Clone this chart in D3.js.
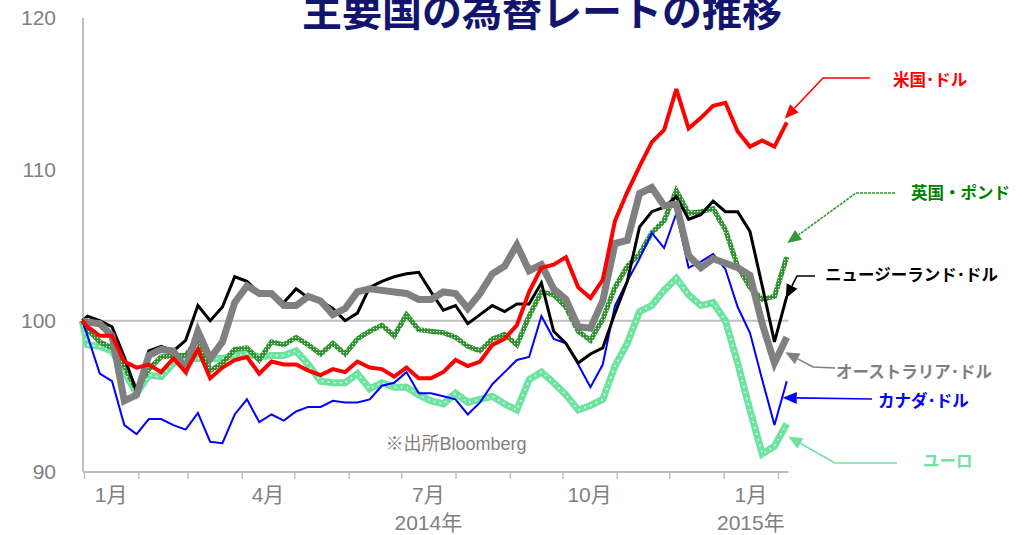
<!DOCTYPE html>
<html>
<head>
<meta charset="utf-8">
<script src="https://cdn.jsdelivr.net/npm/d3@7"></script>
<style>
  body { margin: 0; background: #fff; }
  svg { display: block; }
</style>
</head>
<body>
<script>
// weekly (Friday) index values, 2013-12-31 = 100
var dates = [new Date(2013, 11, 31)].concat(d3.timeFriday.range(new Date(2014, 0, 1), new Date(2015, 1, 7)));

var usd = [100, 99.6, 99.0, 99.0, 97.3, 96.9, 97.1, 96.6, 97.5, 96.6,
  98.1, 96.2, 96.9, 97.4, 97.6, 96.5, 97.3, 97.1, 97.1, 96.7,
  96.4, 96.8, 96.6, 97.3, 96.9, 96.8, 96.3, 96.9, 96.2, 96.2,
  96.6, 97.4, 97.0, 97.3, 98.4, 98.8, 99.7, 101.9, 103.5, 103.7,
  104.2, 102.2, 101.5, 102.7, 106.6, 108.5, 110.2, 111.8, 112.6, 115.3,
  112.7, 113.4, 114.2, 114.4, 112.5, 111.5, 111.9, 111.5, 113.1];
var nzd = [100, 100.3, 100.0, 99.6, 97.6, 95.3, 98.0, 98.3, 98.0, 98.7,
  101.0, 100.0, 100.9, 102.9, 102.6, 101.8, 101.7, 101.2, 102.1, 101.5,
  101.3, 100.8, 100.0, 100.5, 102.2, 102.6, 102.9, 103.1, 103.2, 101.9,
  100.7, 101.0, 99.8, 100.4, 101.0, 100.6, 101.1, 101.1, 102.5, 99.3,
  98.5, 97.2, 97.8, 98.2, 100.5, 102.6, 106.2, 107.2, 107.5, 108.2,
  106.7, 107.0, 107.9, 107.2, 107.2, 105.9, 102.3, 98.6, 101.6];
var aud = [100, 99.9, 99.8, 99.0, 94.7, 95.1, 97.7, 98.1, 98.0, 96.8,
  99.3, 97.5, 98.6, 101.2, 102.3, 101.8, 101.8, 101.0, 101.0, 101.6,
  101.3, 100.4, 100.8, 101.9, 102.1, 102.0, 101.9, 101.8, 101.4, 101.4,
  101.9, 101.8, 100.8, 101.8, 103.1, 103.6, 105.0, 103.3, 103.7, 102.1,
  101.4, 99.6, 99.5, 101.3, 105.1, 105.3, 108.4, 108.8, 107.6, 107.7,
  104.3, 103.5, 104.1, 103.8, 103.5, 103.0, 99.8, 97.2, 98.9];
var cad = [100, 99.0, 96.5, 96.0, 93.1, 92.5, 93.5, 93.5, 93.1, 92.8,
  93.9, 92.0, 91.9, 93.8, 94.8, 93.3, 93.8, 93.4, 94.0, 94.3,
  94.3, 94.7, 94.6, 94.6, 94.8, 95.7, 95.9, 96.6, 95.2, 95.2,
  95.0, 94.8, 93.8, 94.6, 95.8, 96.6, 97.4, 97.6, 100.3, 98.8,
  98.5, 97.1, 95.6, 97.1, 101.0, 102.6, 104.1, 105.8, 104.8, 107.1,
  103.5, 103.9, 104.4, 103.4, 100.9, 99.2, 96.1, 93.1, 96.0];
var gbp = [100, 99.4, 98.6, 98.2, 97.0, 95.4, 96.8, 97.6, 97.7, 97.7,
  98.8, 96.7, 97.2, 98.1, 98.2, 97.4, 98.6, 98.4, 98.9, 98.4,
  97.8, 98.5, 97.8, 98.8, 99.3, 99.7, 99.0, 100.4, 99.4, 99.3,
  99.2, 98.9, 98.3, 98.0, 98.8, 99.1, 98.4, 100.3, 101.9, 101.7,
  100.9, 99.3, 98.7, 100.1, 102.2, 103.6, 104.4, 105.8, 106.6, 108.6,
  107.1, 107.2, 107.4, 106.0, 103.6, 102.2, 101.4, 101.6, 104.2];
var eur = [100, 98.4, 98.3, 98.0, 96.6, 95.2, 96.4, 96.3, 97.2, 97.5,
  97.5, 97.5, 97.5, 97.7, 97.8, 97.6, 97.7, 97.7, 98.0, 97.1,
  96.0, 95.9, 95.9, 96.5, 95.5, 95.9, 95.6, 95.6, 95.1, 94.7,
  94.5, 95.2, 94.6, 94.8, 95.0, 94.5, 94.1, 96.1, 96.6, 95.9,
  95.1, 94.1, 94.4, 94.8, 97.0, 98.5, 100.6, 101.0, 102.0, 102.8,
  101.7, 101.0, 101.2, 100.0, 97.2, 94.1, 91.2, 91.7, 93.2];

var yTicks = [90, 100, 110, 120];
var monthLabels = [
  {month: new Date(2014, 0, 1), text: "1月"},
  {month: new Date(2014, 3, 1), text: "4月"},
  {month: new Date(2014, 6, 1), text: "7月"},
  {month: new Date(2014, 9, 1), text: "10月"},
  {month: new Date(2015, 0, 1), text: "1月"}
];
var yearLabels = [
  {month: new Date(2014, 6, 1), text: "2014年"},
  {month: new Date(2015, 0, 1), text: "2015年"}
];

var W = 1024, H = 535;
var jpFont = "'Liberation Sans', 'Noto Sans CJK JP', sans-serif";
var axisGray = "#bfbfbf", textGray = "#7f7f7f";

var x = d3.scaleTime()
  .domain([new Date(2014, 0, 1), new Date(2015, 1, 7)])
  .range([84, 788.5]);
var y = d3.scaleLinear().domain([90, 120]).range([472, 18]);

var svg = d3.select("body").append("svg")
  .attr("width", W).attr("height", H);

var defs = svg.append("defs");
var pat = defs.append("pattern")
  .attr("id", "checker")
  .attr("patternUnits", "userSpaceOnUse")
  .attr("width", 3).attr("height", 3);
pat.append("rect").attr("width", 3).attr("height", 3).attr("fill", "#2f8f2f");
pat.append("rect").attr("x", 1).attr("y", 1).attr("width", 1.2).attr("height", 1.2).attr("fill", "#d6f2d6");

// title
svg.append("text")
  .attr("x", 542).attr("y", 26)
  .attr("text-anchor", "middle")
  .style("font-family", "'Noto Sans CJK JP', sans-serif")
  .style("font-weight", "bold")
  .style("font-size", "40px")
  .style("fill", "#12146e")
  .text("主要国の為替レートの推移");

// y axis
var yAxis = d3.axisLeft(y).tickValues(yTicks).tickSize(0).tickPadding(27);
var gy = svg.append("g").attr("transform", "translate(83,0)").call(yAxis);
gy.select(".domain").remove();
gy.selectAll("text")
  .style("font-family", jpFont).style("font-size", "21px").style("fill", textGray);
svg.append("line")
  .attr("x1", 83).attr("x2", 83).attr("y1", y(120)).attr("y2", y(90))
  .attr("stroke", axisGray).attr("stroke-width", 2);

// 100 reference line
svg.append("line")
  .attr("x1", 83).attr("x2", x(new Date(2015, 1, 7)))
  .attr("y1", y(100)).attr("y2", y(100))
  .attr("stroke", axisGray).attr("stroke-width", 2);

// x axis
var monthTicks = d3.timeMonth.range(new Date(2014, 0, 1), new Date(2015, 1, 2));
var xAxis = d3.axisBottom(x).tickValues(monthTicks).tickSize(7).tickFormat("");
var gx = svg.append("g").attr("transform", "translate(0," + y(90) + ")").call(xAxis);
gx.select(".domain").attr("stroke", axisGray).attr("stroke-width", 2)
  .attr("d", "M83,0H" + x(new Date(2015, 1, 7)));
gx.selectAll(".tick line").attr("stroke", axisGray).attr("stroke-width", 1.5);

function midMonth(d) {
  return (x(d) + x(d3.timeMonth.offset(d, 1))) / 2;
}
svg.selectAll(".mlabel").data(monthLabels).enter().append("text")
  .attr("class", "mlabel")
  .attr("x", function(d) { return midMonth(d.month); })
  .attr("y", 502)
  .attr("text-anchor", "middle")
  .style("font-family", jpFont).style("font-size", "21px").style("fill", textGray)
  .text(function(d) { return d.text; });
svg.selectAll(".ylabel").data(yearLabels).enter().append("text")
  .attr("class", "ylabel")
  .attr("x", function(d) { return midMonth(d.month); })
  .attr("y", 530)
  .attr("text-anchor", "middle")
  .style("font-family", jpFont).style("font-size", "21px").style("fill", textGray)
  .text(function(d) { return d.text; });

// source note
svg.append("text")
  .attr("x", 456).attr("y", 450)
  .attr("text-anchor", "middle")
  .style("font-family", jpFont).style("font-size", "18px").style("fill", textGray)
  .text("※出所Bloomberg");

// lines
var line = d3.line()
  .x(function(d, i) { return x(dates[i]); })
  .y(function(d) { return y(d); });

function drawLine(values, stroke, w) {
  return svg.append("path").datum(values)
    .attr("d", line)
    .attr("fill", "none")
    .attr("stroke", stroke)
    .attr("stroke-width", w)
    .attr("stroke-linejoin", "miter")
    .attr("stroke-miterlimit", 3);
}

drawLine(eur, "#6ee3a0", 7);
drawLine(eur, "#eafff2", 1.6).attr("stroke-dasharray", "1.6 4.5");
drawLine(gbp, "url(#checker)", 5);
drawLine(cad, "#0000ff", 2);
drawLine(nzd, "#000000", 3);
drawLine(aud, "#808080", 7);
drawLine(usd, "#ff0000", 4);

// callouts
var last = dates.length - 1;
var callouts = [
  {label: "米国･ドル", values: usd, color: "#ff0000", text: "#ff0000", tx: 893, ty: 86,
   path: [[870, 78], [823, 78]], dx: -2, dy: -4},
  {label: "英国・ポンド", values: gbp, color: "#339933", text: "#008000", tx: 911, ty: 199, dash: "3 1",
   path: [[895, 193], [856, 193]], dx: 0.5, dy: -14},
  {label: "ニュージーランド･ドル", values: nzd, color: "#000000", text: "#000000", tx: 825, ty: 281,
   path: [[815, 276], [797, 276]], dx: -1, dy: 2},
  {label: "オーストラリア･ドル", values: aud, color: "#808080", text: "#808080", tx: 836, ty: 378,
   path: [[835, 368], [813, 367]], dx: -1.5, dy: 15},
  {label: "カナダ･ドル", values: cad, color: "#0000ff", text: "#0000ff", tx: 878, ty: 407,
   path: [[872, 399]], dx: -4, dy: 16.5},
  {label: "ユーロ", values: eur, color: "#6ee3a0", text: "#6ee3a0", tx: 923, ty: 467,
   path: [[897, 463], [835, 463]], dx: 1.5, dy: 13}
];

callouts.forEach(function(c) {
  var tip = [x(dates[last]) + c.dx, y(c.values[last]) + c.dy];
  var prev = c.path[c.path.length - 1];
  var ang = Math.atan2(tip[1] - prev[1], tip[0] - prev[0]);
  var L = 14, hw = 6;
  var base = [tip[0] - L * Math.cos(ang), tip[1] - L * Math.sin(ang)];
  var pts = c.path.concat([base]);
  svg.append("path")
    .attr("d", d3.line()(pts))
    .attr("fill", "none")
    .attr("stroke", c.color)
    .attr("stroke-width", 1.6)
    .attr("stroke-dasharray", c.dash || null);
  var p1 = [base[0] + hw * Math.sin(ang), base[1] - hw * Math.cos(ang)];
  var p2 = [base[0] - hw * Math.sin(ang), base[1] + hw * Math.cos(ang)];
  svg.append("path")
    .attr("d", "M" + tip + "L" + p1 + "L" + p2 + "Z")
    .attr("fill", c.color);
  svg.append("text")
    .attr("x", c.tx).attr("y", c.ty)
    .style("font-family", "'Noto Sans CJK JP', sans-serif")
    .style("font-weight", "bold")
    .style("font-size", "16.5px")
    .style("fill", c.text)
    .text(c.label);
});
</script>
</body>
</html>
